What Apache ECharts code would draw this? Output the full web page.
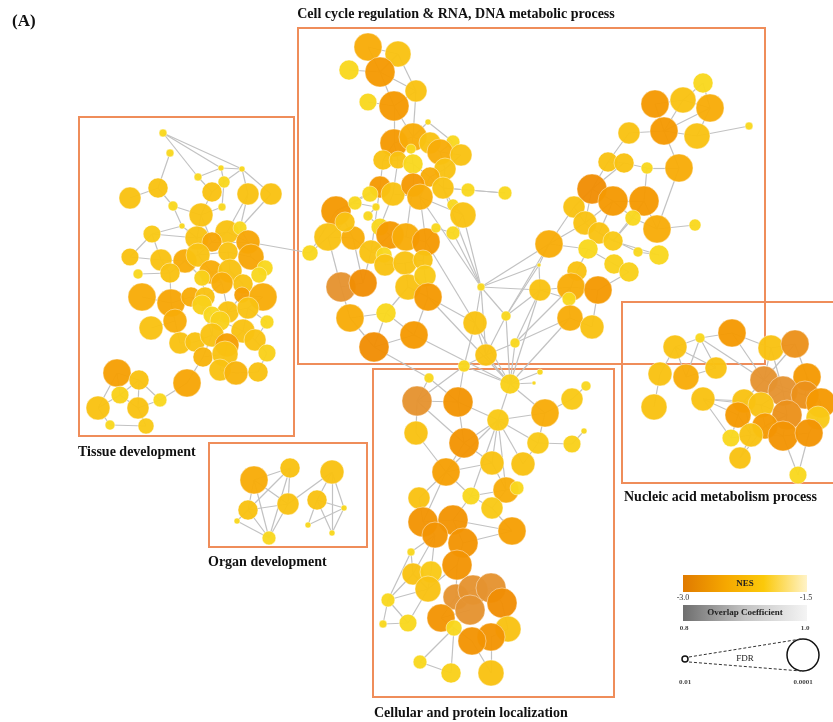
<!DOCTYPE html>
<html>
<head>
<meta charset="utf-8">
<script src="https://cdn.jsdelivr.net/npm/echarts@6/dist/echarts.min.js"></script>
<style>
  html, body { margin: 0; padding: 0; background: #fff; }
  #main { width: 833px; height: 722px; }
</style>
</head>
<body>
<div id="main"></div>
<script>
// each node: [layoutX, layoutY, NES, -log10(FDR)]
const cellCycleNodes = [
  [368,47,-2.2,3.7],[398,54,-1.9,3.54],[349,70,-1.6,3.08],[380,72,-2.5,3.85],[416,91,-1.9,3.23],
  [368,102,-1.6,2.9],[394,106,-2.5,3.85],[428,122,-1.6,2.0],[394,143,-2.5,3.7],[413,137,-2.2,3.7],
  [430,143,-1.9,3.23],[453,142,-1.6,2.6],[440,152,-2.2,3.54],[461,155,-1.9,3.23],[383,160,-1.9,3.08],
  [411,149,-1.6,2.3],[398,160,-1.9,2.9],[413,164,-1.6,3.08],[445,169,-1.9,3.23],[430,177,-2.2,3.08],
  [443,188,-1.9,3.23],[468,190,-1.6,2.6],[505,193,-1.6,2.6],[380,187,-2.5,3.23],[393,194,-1.9,3.38],
  [413,185,-2.5,3.38],[420,197,-2.2,3.54],[370,194,-1.6,2.77],[336,211,-2.5,3.85],[355,203,-1.6,2.6],
  [453,205,-1.6,2.46],[463,215,-1.9,3.54],[376,207,-1.6,2.15],[368,216,-1.6,2.3],[328,237,-1.9,3.7],
  [353,238,-2.2,3.38],[345,222,-1.9,3.08],[380,227,-1.6,2.9],[390,235,-2.5,3.7],[406,237,-2.2,3.7],
  [426,242,-2.5,3.7],[371,252,-1.9,3.38],[384,255,-1.6,2.77],[385,265,-1.9,3.23],[405,263,-1.9,3.38],
  [423,260,-1.9,3.08],[436,228,-1.6,2.3],[453,233,-1.6,2.6],[310,253,-1.6,2.77],[341,287,-2.9,3.85],
  [363,283,-2.7,3.7],[408,287,-1.9,3.54],[425,276,-1.8,3.23],[428,297,-2.5,3.7],[350,318,-2.2,3.7],
  [386,313,-1.6,3.08],[374,347,-2.7,3.85],[414,335,-2.5,3.7],[481,287,-1.6,2.15],[475,323,-1.9,3.38],
  [506,316,-1.6,2.3],[515,343,-1.6,2.3],[486,355,-1.9,3.23],
  [703,83,-1.6,3.08],[655,104,-2.5,3.7],[683,100,-1.9,3.54],[710,108,-2.2,3.7],[664,131,-2.5,3.7],
  [697,136,-1.9,3.54],[629,133,-1.9,3.23],[749,126,-1.6,2.15],[679,168,-2.2,3.7],[647,168,-1.6,2.46],
  [608,162,-1.9,3.08],[624,163,-1.9,3.08],[592,189,-2.7,3.85],[613,201,-2.5,3.85],[644,201,-2.5,3.85],
  [574,207,-1.9,3.23],[633,218,-1.6,2.77],[657,229,-2.2,3.7],[695,225,-1.6,2.46],[585,223,-1.9,3.38],
  [599,233,-1.9,3.23],[613,241,-1.8,3.08],[549,244,-2.2,3.7],[588,249,-1.6,3.08],[638,252,-1.6,2.3],
  [659,255,-1.6,3.08],[539,265,-1.6,1.85],[577,271,-1.9,3.08],[614,264,-1.7,3.08],[629,272,-1.7,3.08],
  [571,287,-2.2,3.7],[598,290,-2.5,3.7],[540,290,-1.9,3.23],[569,299,-1.6,2.6],[570,318,-2.2,3.54],
  [592,327,-1.9,3.38]
];
const cellCycleEdges = '0-1 0-3 1-3 2-3 1-4 3-4 3-6 5-6 4-6 6-8 6-9 4-9 7-9 7-11 8-9 9-10 10-12 11-12 12-13 8-14 8-16 9-15 14-16 16-17 15-17 17-19 18-19 12-18 13-18 18-20 19-20 20-21 21-22 20-22 14-23 16-24 17-25 25-26 24-26 23-27 19-26 26-31 30-31 20-30 23-28 27-28 28-29 29-32 32-33 28-36 36-34 34-35 35-36 33-37 37-38 38-39 39-40 26-40 40-46 46-47 47-31 41-42 42-43 43-44 44-45 45-40 38-41 35-41 34-48 48-28 49-50 49-34 50-35 50-41 51-44 52-45 51-53 52-53 49-54 54-55 55-51 56-54 56-55 57-53 57-55 56-57 20-58 26-58 31-58 47-58 58-59 58-62 58-60 59-62 60-62 61-62 40-59 53-59 24-37 25-39 23-41 63-65 64-65 65-66 63-66 64-67 65-67 66-67 67-68 68-66 69-67 70-68 67-71 71-72 69-73 73-74 74-72 73-75 74-75 75-76 76-77 77-72 75-78 76-79 77-80 80-81 78-82 82-83 83-84 76-83 77-84 79-80 79-84 78-85 82-85 85-86 86-90 83-87 84-88 87-88 85-89 89-95 86-91 91-92 90-93 93-94 93-95 94-92 95-96 93-96 96-97 97-98 94-98 85-60 95-60 95-61 89-60 93-61 97-61 95-58 85-58 89-58 75-82 76-82 77-79 71-80';

const tissueNodes = [
  [163,133,-1.6,2.15],[170,153,-1.6,2.15],[221,168,-1.6,2.0],[242,169,-1.6,2.0],[198,177,-1.6,2.15],
  [158,188,-1.9,3.08],[130,198,-1.9,3.23],[224,182,-1.6,2.46],[212,192,-1.9,3.08],[248,194,-1.9,3.23],
  [271,194,-1.9,3.23],[173,206,-1.6,2.3],[222,207,-1.6,2.15],[201,215,-1.9,3.38],[182,226,-1.6,2.0],
  [152,234,-1.8,2.9],[197,238,-1.9,3.38],[227,232,-1.9,3.38],[212,242,-2.3,3.08],[240,228,-1.6,2.6],
  [248,242,-2.3,3.38],[130,257,-1.9,2.9],[161,260,-1.9,3.23],[185,261,-2.2,3.38],[198,255,-1.9,3.38],
  [228,252,-1.9,3.08],[251,257,-2.3,3.54],[138,274,-1.6,2.3],[170,273,-1.9,3.08],[211,272,-2.2,3.38],
  [230,271,-1.9,3.38],[265,268,-1.6,2.77],[259,275,-1.6,2.77],[202,278,-1.7,2.77],[243,284,-1.9,3.08],
  [222,283,-2.2,3.23],[142,297,-2.2,3.7],[171,303,-2.3,3.7],[191,297,-2.2,3.08],[205,297,-1.9,3.08],
  [242,295,-2.4,2.77],[263,297,-2.2,3.7],[228,312,-1.9,3.23],[248,308,-1.9,3.23],[202,305,-1.7,3.08],
  [212,315,-1.6,2.9],[175,321,-2.2,3.38],[151,328,-1.9,3.38],[220,321,-1.7,3.08],[267,322,-1.6,2.6],
  [243,331,-1.9,3.38],[255,340,-1.9,3.23],[180,343,-1.9,3.23],[195,342,-1.9,3.08],[212,335,-1.9,3.38],
  [227,345,-2.4,3.38],[203,357,-2.1,3.08],[225,354,-1.9,3.54],[267,353,-1.7,2.9],[220,370,-1.9,3.23],
  [236,373,-2.1,3.38],[258,372,-1.9,3.08],[117,373,-2.4,3.7],[139,380,-1.9,3.08],[187,383,-2.3,3.7],
  [120,395,-1.7,2.9],[160,400,-1.6,2.6],[98,408,-1.9,3.38],[138,408,-1.9,3.23],[110,425,-1.6,2.3],
  [146,426,-1.8,2.77]
];
const tissueEdges = '0-4 0-2 0-3 1-5 5-6 5-11 11-13 4-2 2-3 2-7 3-7 7-8 3-9 8-13 9-17 7-12 12-13 13-16 11-14 14-16 15-16 15-21 15-22 14-15 16-17 17-18 18-20 19-20 9-19 10-19 17-20 16-24 18-24 24-25 25-26 20-26 22-23 23-24 21-22 27-28 22-28 23-28 29-30 24-29 25-30 26-31 31-32 30-34 29-35 33-35 23-33 34-40 35-39 38-39 36-37 37-38 28-37 39-44 40-41 41-43 42-43 44-45 45-48 46-47 37-46 42-48 43-49 48-50 50-51 46-52 52-53 53-54 54-55 55-57 56-57 54-56 50-55 51-58 57-59 59-60 60-61 58-61 56-64 62-63 62-65 63-65 63-68 65-67 65-68 66-68 66-63 67-69 69-70 68-70 66-64 62-67 38-44 44-54 45-54 49-51 43-50 40-42 3-10 4-8 13-18 39-45 33-39 29-33 35-42';

const organNodes = [
  [254,480,-2.2,3.7],[290,468,-1.9,3.08],[332,472,-1.9,3.38],[248,510,-1.9,3.08],[288,504,-1.9,3.23],
  [317,500,-1.9,3.08],[237,521,-1.6,2.0],[269,538,-1.6,2.6],[344,508,-1.6,2.0],[308,525,-1.6,2.0],
  [332,533,-1.6,2.0]
];
const organEdges = '0-1 0-3 0-4 1-4 1-3 3-4 3-6 3-7 4-7 6-7 1-7 0-7 4-2 2-5 2-8 2-10 5-8 5-9 5-10 8-9 8-10';

const localizationNodes = [
  [464,366,-1.6,2.46],[429,378,-1.6,2.3],[510,384,-1.7,3.08],[540,372,-1.6,2.0],[534,383,-1.6,1.85],
  [417,401,-2.9,3.85],[458,402,-2.6,3.85],[586,386,-1.6,2.3],[572,399,-1.8,3.23],[545,413,-2.2,3.7],
  [498,420,-1.8,3.23],[416,433,-1.9,3.38],[464,443,-2.6,3.85],[538,443,-1.8,3.23],[572,444,-1.7,2.9],
  [584,431,-1.6,2.0],[446,472,-2.4,3.7],[492,463,-1.9,3.38],[523,464,-1.9,3.38],[506,490,-2.2,3.54],
  [517,488,-1.6,2.6],[419,498,-1.9,3.23],[471,496,-1.6,2.9],[492,508,-1.8,3.23],[423,522,-2.6,3.85],
  [453,520,-2.6,3.85],[512,531,-2.4,3.7],[435,535,-2.6,3.54],[463,543,-2.6,3.85],[411,552,-1.6,2.15],
  [457,565,-2.6,3.85],[413,574,-1.9,3.23],[431,572,-1.8,3.23],[428,589,-1.9,3.54],[456,597,-2.9,3.54],
  [473,590,-2.9,3.85],[491,588,-2.9,3.85],[502,603,-2.7,3.85],[470,610,-2.9,3.85],[441,618,-2.6,3.7],
  [388,600,-1.6,2.6],[408,623,-1.6,2.9],[383,624,-1.6,2.15],[454,628,-1.6,2.77],[508,629,-1.9,3.54],
  [491,637,-2.6,3.7],[472,641,-2.6,3.7],[420,662,-1.6,2.6],[451,673,-1.7,3.08],[491,673,-1.9,3.54]
];
const localizationEdges = '1-6 1-5 0-5 0-6 2-3 2-4 2-10 5-6 5-11 6-10 6-12 5-12 10-12 10-17 10-22 10-16 10-18 10-19 10-13 9-13 7-8 8-9 13-14 14-15 11-16 12-16 16-17 16-21 16-24 17-19 18-13 19-20 19-23 22-23 21-24 22-25 22-16 24-25 23-26 25-26 24-27 27-29 25-28 28-30 26-28 27-31 29-31 27-32 30-33 31-40 32-33 40-41 40-42 41-42 33-41 33-40 30-34 34-35 35-36 36-37 38-39 34-39 39-43 43-47 43-48 43-46 45-49 46-49 44-37 44-45 47-48 31-33 29-40 0-2 12-17 9-10 2-9 22-19';

const nucleicNodes = [
  [700,338,-1.6,2.3],[732,333,-2.5,3.7],[675,347,-1.9,3.38],[771,348,-1.9,3.54],[795,344,-2.8,3.7],
  [660,374,-1.9,3.38],[686,377,-2.2,3.54],[716,368,-1.9,3.23],[764,380,-2.9,3.7],[807,377,-2.5,3.7],
  [654,407,-1.9,3.54],[703,399,-1.9,3.38],[783,391,-2.9,3.85],[805,395,-2.8,3.7],[821,403,-2.5,3.85],
  [744,401,-1.9,3.38],[761,405,-1.9,3.54],[738,415,-2.5,3.54],[787,415,-2.8,3.85],[765,426,-2.5,3.54],
  [818,418,-1.8,3.38],[731,438,-1.6,2.9],[751,435,-1.9,3.38],[783,436,-2.6,3.85],[809,433,-2.6,3.7],
  [740,458,-1.9,3.23],[798,475,-1.6,2.9]
];
const nucleicEdges = '0-2 0-1 0-6 0-7 0-8 2-5 2-6 2-7 1-8 1-3 3-4 3-8 4-8 4-9 3-12 5-10 6-7 11-15 11-17 11-21 15-16 16-12 17-21 8-12 8-13 9-13 12-13 13-14 12-18 18-19 19-23 18-23 23-24 20-24 22-23 15-22 21-22 22-25 25-19 23-26 24-26 16-19 17-22 14-20 9-14 8-15 15-17 16-18 11-16';

// links between clusters, cluster letter + node index
const crossEdges = 'T20-C48 L2-C62 L2-C61 L2-C60 L2-C59 L2-C95 L2-C97 L2-C57 L2-C53 L0-C62 L0-C59 L1-C56';

const clusters = [
  { key: 'C', name: 'Cell cycle regulation & RNA, DNA metabolic process', nodes: cellCycleNodes, edges: cellCycleEdges,
    box: [298, 28, 765, 364], label: [456, 14, 'center'] },
  { key: 'T', name: 'Tissue development', nodes: tissueNodes, edges: tissueEdges,
    box: [79, 117, 294, 436], label: [78, 452, 'left'] },
  { key: 'O', name: 'Organ development', nodes: organNodes, edges: organEdges,
    box: [209, 443, 367, 547], label: [208, 562, 'left'] },
  { key: 'L', name: 'Cellular and protein localization', nodes: localizationNodes, edges: localizationEdges,
    box: [373, 369, 614, 697], label: [374, 713, 'left'] },
  { key: 'N', name: 'Nucleic acid metabolism process', nodes: nucleicNodes, edges: nucleicEdges,
    box: [622, 302, 840, 483], label: [624, 497, 'left'] }
];

const nesStops = [
  [-2.9, [229, 147, 48]], [-2.7, [240, 142, 4]], [-2.5, [245, 153, 2]],
  [-2.2, [248, 172, 8]], [-1.9, [249, 194, 18]], [-1.6, [249, 215, 30]]
];
function nesColor(v) {
  if (v <= nesStops[0][0]) return 'rgb(' + nesStops[0][1].join(',') + ')';
  for (let i = 1; i < nesStops.length; i++) {
    if (v <= nesStops[i][0]) {
      const a = nesStops[i - 1], b = nesStops[i];
      const t = (v - a[0]) / (b[0] - a[0]);
      const c = a[1].map((x, k) => Math.round(x + (b[1][k] - x) * t));
      return 'rgb(' + c.join(',') + ')';
    }
  }
  return 'rgb(' + nesStops[nesStops.length - 1][1].join(',') + ')';
}
function fdrSize(l) { return 6 + (l - 2) / 2 * 26; }

const nodes = [];
const links = [];
const offset = {};
clusters.forEach(c => {
  offset[c.key] = nodes.length;
  c.nodes.forEach(n => {
    nodes.push({
      value: [n[0], n[1]],
      symbolSize: fdrSize(n[3]),
      itemStyle: { color: nesColor(n[2]) }
    });
  });
  c.edges.split(' ').forEach(e => {
    const p = e.split('-');
    links.push({ source: offset[c.key] + (+p[0]), target: offset[c.key] + (+p[1]) });
  });
});
crossEdges.split(' ').forEach(e => {
  const p = e.split('-');
  links.push({
    source: offset[p[0][0]] + (+p[0].slice(1)),
    target: offset[p[1][0]] + (+p[1].slice(1))
  });
});

const boxColor = '#ef8d5a';
const serif = '"Liberation Serif", "DejaVu Serif", serif';
const graphic = [];
clusters.forEach(c => {
  const b = c.box;
  graphic.push({
    type: 'rect', z: -1,
    shape: { x: b[0], y: b[1], width: b[2] - b[0], height: b[3] - b[1] },
    style: { fill: null, stroke: boxColor, lineWidth: 2 }
  });
  graphic.push({
    type: 'text',
    style: { x: c.label[0], y: c.label[1], text: c.name, fill: '#111', font: 'bold 14px ' + serif,
      textAlign: c.label[2], textVerticalAlign: 'middle' }
  });
});
graphic.push({
  type: 'text',
  style: { x: 12, y: 22, text: '(A)', fill: '#111', font: 'bold 17px ' + serif, textVerticalAlign: 'middle' }
});

// legend
const legendNesTicks = ['-3.0', '-1.5'];
const legendOverlapTicks = ['0.8', '1.0'];
const legendFdrTicks = ['0.01', '0.0001'];
graphic.push(
  { type: 'rect', shape: { x: 683, y: 575, width: 124, height: 17 },
    style: { fill: new echarts.graphic.LinearGradient(0, 0, 1, 0, [
      { offset: 0, color: '#e07a00' }, { offset: 0.35, color: '#f6a800' },
      { offset: 0.65, color: '#fbc90a' }, { offset: 1, color: '#fff3c8' }]) } },
  { type: 'text', style: { x: 745, y: 583.5, text: 'NES', font: 'bold 9px ' + serif, fill: '#222', textAlign: 'center', textVerticalAlign: 'middle' } },
  { type: 'text', style: { x: 683, y: 598, text: legendNesTicks[0], font: '8px ' + serif, fill: '#333', textAlign: 'center', textVerticalAlign: 'middle' } },
  { type: 'text', style: { x: 806, y: 598, text: legendNesTicks[1], font: '8px ' + serif, fill: '#333', textAlign: 'center', textVerticalAlign: 'middle' } },
  { type: 'rect', shape: { x: 683, y: 605, width: 124, height: 16 },
    style: { fill: new echarts.graphic.LinearGradient(0, 0, 1, 0, [
      { offset: 0, color: '#6e6e6e' }, { offset: 0.5, color: '#c4c4c4' }, { offset: 1, color: '#f4f4f4' }]) } },
  { type: 'text', style: { x: 745, y: 613, text: 'Overlap Coefficient', font: 'bold 9px ' + serif, fill: '#222', textAlign: 'center', textVerticalAlign: 'middle' } },
  { type: 'text', style: { x: 684, y: 628, text: legendOverlapTicks[0], font: 'bold 7px ' + serif, fill: '#444', textAlign: 'center', textVerticalAlign: 'middle' } },
  { type: 'text', style: { x: 805, y: 628, text: legendOverlapTicks[1], font: 'bold 7px ' + serif, fill: '#444', textAlign: 'center', textVerticalAlign: 'middle' } },
  { type: 'circle', shape: { cx: 685, cy: 659, r: 3 }, style: { fill: '#fff', stroke: '#111', lineWidth: 1.5 } },
  { type: 'circle', shape: { cx: 803, cy: 655, r: 16 }, style: { fill: '#fff', stroke: '#111', lineWidth: 1.5 } },
  { type: 'line', shape: { x1: 689, y1: 657, x2: 801, y2: 639 }, style: { stroke: '#333', lineWidth: 1, lineDash: [3, 2] } },
  { type: 'line', shape: { x1: 689, y1: 662, x2: 801, y2: 671 }, style: { stroke: '#333', lineWidth: 1, lineDash: [3, 2] } },
  { type: 'text', style: { x: 745, y: 659, text: 'FDR', font: '9px ' + serif, fill: '#222', textAlign: 'center', textVerticalAlign: 'middle' } },
  { type: 'text', style: { x: 685, y: 682, text: legendFdrTicks[0], font: 'bold 7px ' + serif, fill: '#444', textAlign: 'center', textVerticalAlign: 'middle' } },
  { type: 'text', style: { x: 803, y: 682, text: legendFdrTicks[1], font: 'bold 7px ' + serif, fill: '#444', textAlign: 'center', textVerticalAlign: 'middle' } }
);

const chart = echarts.init(document.getElementById('main'));
chart.setOption({
  backgroundColor: '#fff',
  animation: false,
  grid: { left: 0, right: 0, top: 0, bottom: 0 },
  xAxis: { type: 'value', min: 0, max: 833, show: false },
  yAxis: { type: 'value', min: 0, max: 722, inverse: true, show: false },
  graphic: graphic,
  series: [{
    type: 'graph',
    coordinateSystem: 'cartesian2d',
    data: nodes,
    links: links,
    symbol: 'circle',
    itemStyle: { borderColor: 'rgba(255,255,255,0.45)', borderWidth: 1, opacity: 0.96 },
    lineStyle: { color: '#c2c2c2', width: 1.2, opacity: 1, curveness: 0 },
    label: { show: false },
    emphasis: { disabled: true }
  }]
});
</script>
</body>
</html>
